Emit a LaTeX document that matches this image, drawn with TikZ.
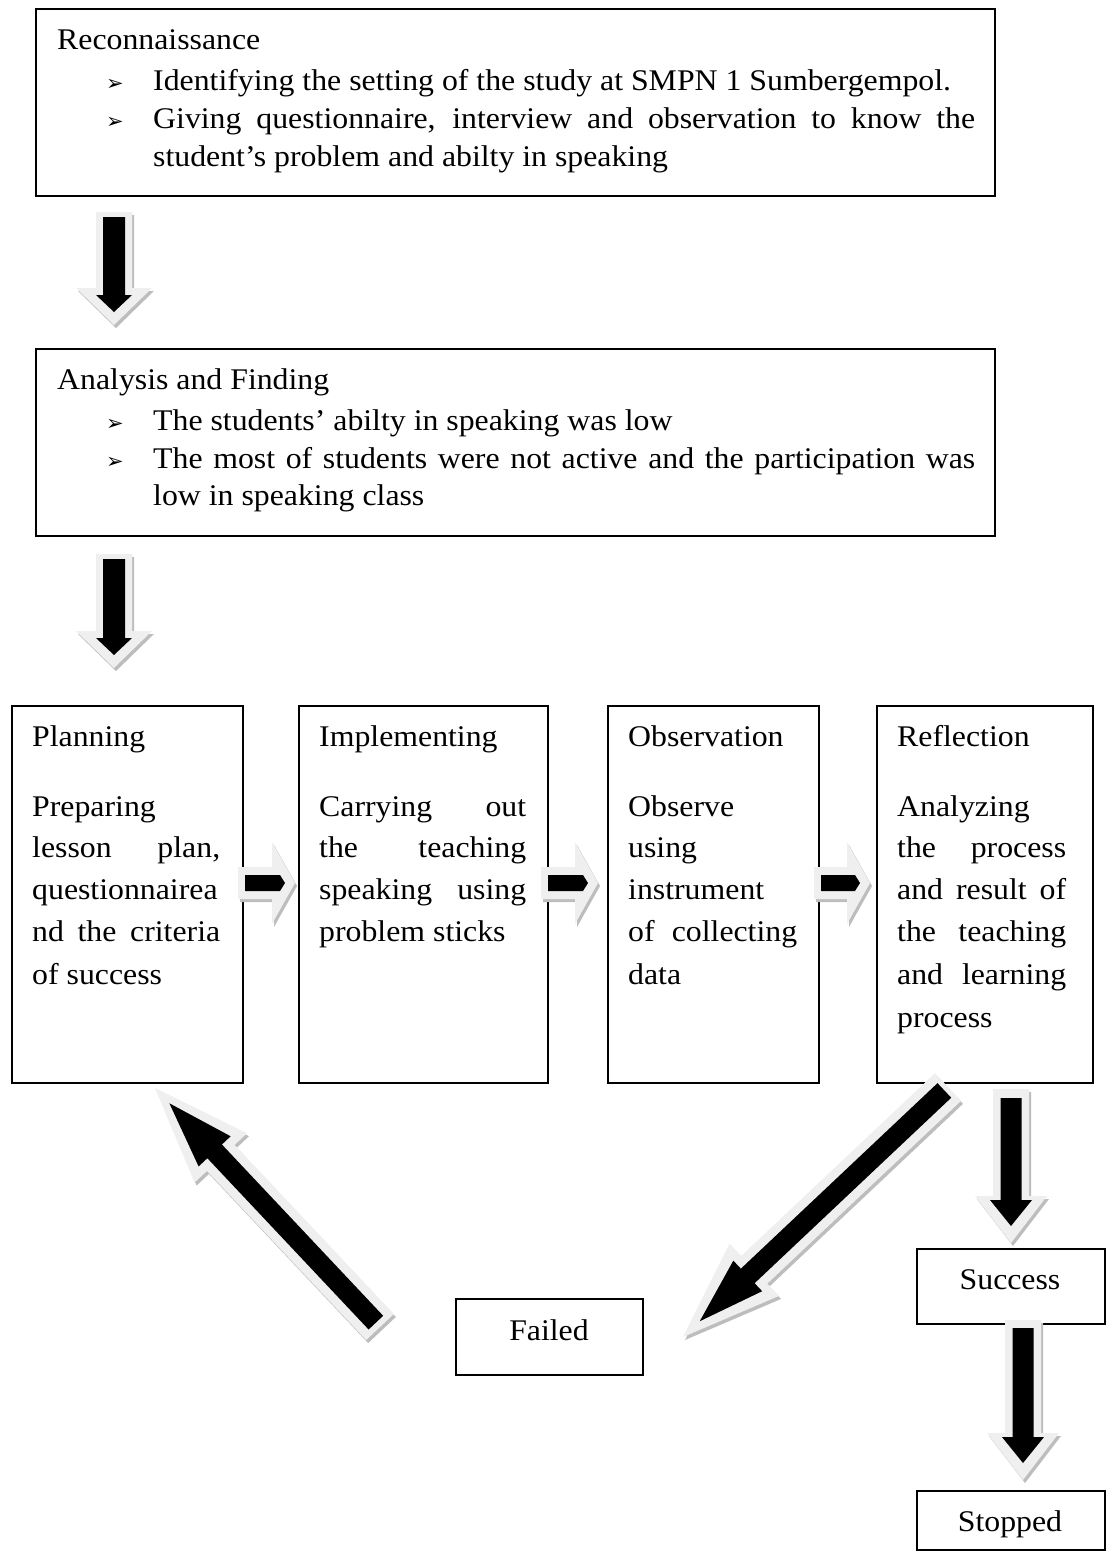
\documentclass[tikz,border=0pt]{standalone}
\usepackage{fontspec}
\setmainfont{Liberation Serif}[FakeStretch=1.06]
\newfontfamily\symfont{DejaVu Sans}
\usetikzlibrary{calc}
\definecolor{outerc}{HTML}{EFEFEF}
\definecolor{shadowc}{HTML}{BDBDBD}
\newcommand\mainsz{\fontsize{30}{42}\selectfont}
\newcommand\bul{{\symfont\fontsize{21}{21}\selectfont ➢}}
\newcommand\jl[2]{\makebox[#1pt][s]{#2}}
% polygon block arrow: tail, tip, shaft half, head half, head length, fill, shift
\newcommand\polyarrow[7]{%
  \coordinate (pa) at ($(#1)+(#7)$);
  \coordinate (pb) at ($(#2)+(#7)$);
  \coordinate (ph) at ($(pb)!#5pt!(pa)$);
  \fill[#6] ($(pa)!#3pt!90:(pb)$) -- ($(ph)!#3pt!-90:(pa)$) -- ($(ph)!#4pt!-90:(pa)$)
    -- (pb) -- ($(ph)!#4pt!90:(pa)$) -- ($(ph)!#3pt!90:(pa)$) -- ($(pa)!#3pt!-90:(pb)$) -- cycle;
}
% tail, tip, outer shaft half, outer head half, outer head len, tail inset, tip inset, inner shaft half, inner head half; inner head length = \ili
\newcommand\fancyarrow[9]{%
  \polyarrow{#1}{#2}{#3}{#4}{#5}{shadowc}{2,3}
  \polyarrow{#1}{#2}{#3}{#4}{#5}{outerc}{0,0}
  \coordinate (ia) at ($(#1)!#6pt!(#2)$);
  \coordinate (ib) at ($(#2)!#7pt!(#1)$);
  \polyarrow{ia}{ib}{#8}{#9}{\ili}{black}{0,0}
}
\tikzset{
  boxs/.style={draw, line width=1.8pt, inner sep=0pt, anchor=north west},
  txt/.style={inner sep=0pt, anchor=base west, font=\mainsz},
  ctxt/.style={inner sep=0pt, anchor=base, font=\mainsz},
  bl/.style={inner sep=0pt, anchor=base west},
}
\begin{document}
\begin{tikzpicture}[x=1pt,y=-1pt]
\useasboundingbox (0,0) rectangle (1111,1558);
\fill[white] (0,0) rectangle (1111,1558);

% boxes
\node[boxs, minimum width=959pt, minimum height=187pt] (recon) at (35,8) {};
\node[boxs, minimum width=959pt, minimum height=187pt] (analysis) at (35,348) {};
\node[boxs, minimum width=231pt, minimum height=377pt] (plan) at (11,705) {};
\node[boxs, minimum width=249pt, minimum height=377pt] (impl) at (298,705) {};
\node[boxs, minimum width=211pt, minimum height=377pt] (obs) at (607,705) {};
\node[boxs, minimum width=216pt, minimum height=377pt] (refl) at (876,705) {};
\node[boxs, minimum width=187pt, minimum height=76pt] (failed) at (455,1298) {};
\node[boxs, minimum width=188pt, minimum height=75pt] (success) at (916,1248) {};
\node[boxs, minimum width=188pt, minimum height=59pt] (stopped) at (916,1490) {};

% top box text
\node[txt] (r0) at (57,49) {Reconnaissance};
\node[bl] (rb1) at (106,90) {\bul};
\node[txt] (r1) at (153,90) {Identifying the setting of the study at SMPN 1 Sumbergempol.};
\node[bl] (rb2) at (106,128) {\bul};
\node[txt] (r2) at (153,128) {\jl{822}{Giving questionnaire, interview and observation to know the}};
\node[txt] (r3) at (153,166) {student’s problem and abilty in speaking};

% analysis text
\node[txt] (a0) at (57,389) {Analysis and Finding};
\node[bl] (ab1) at (106,430) {\bul};
\node[txt] (a1) at (153,430) {The students’ abilty in speaking was low};
\node[bl] (ab2) at (106,468) {\bul};
\node[txt] (a2) at (153,468) {\jl{822}{The most of students were not active and the participation was}};
\node[txt] (a3) at (153,505) {low in speaking class};

% planning
\node[txt] (p0) at (32,746) {Planning};
\node[txt] (p1) at (32,816) {Preparing};
\node[txt] (p2) at (32,857) {\jl{188}{lesson plan,}};
\node[txt] (p3) at (32,899) {questionnairea};
\node[txt] (p4) at (32,941) {\jl{188}{nd the criteria}};
\node[txt] (p5) at (32,984) {of success};

% implementing
\node[txt] (i0) at (319,746) {Implementing};
\node[txt] (i1) at (319,816) {\jl{207}{Carrying out}};
\node[txt] (i2) at (319,857) {\jl{207}{the teaching}};
\node[txt] (i3) at (319,899) {\jl{207}{speaking using}};
\node[txt] (i4) at (319,941) {problem sticks};

% observation
\node[txt] (o0) at (628,746) {Observation};
\node[txt] (o1) at (628,816) {Observe};
\node[txt] (o2) at (628,857) {using};
\node[txt] (o3) at (628,899) {instrument};
\node[txt] (o4) at (628,941) {\jl{169}{of collecting}};
\node[txt] (o5) at (628,984) {data};

% reflection
\node[txt] (f0) at (897,746) {Reflection};
\node[txt] (f1) at (897,816) {Analyzing};
\node[txt] (f2) at (897,857) {\jl{169}{the process}};
\node[txt] (f3) at (897,899) {\jl{169}{and result of}};
\node[txt] (f4) at (897,941) {\jl{169}{the teaching}};
\node[txt] (f5) at (897,984) {\jl{169}{and learning}};
\node[txt] (f6) at (897,1027) {process};

% small boxes text
\node[ctxt] (ft) at (549,1340) {Failed};
\node[ctxt] (st) at (1010,1289) {Success};
\node[ctxt] (sp) at (1010,1531) {Stopped};

% arrow end points
\coordinate (a1t) at (114,212);  \coordinate (a1h) at (114,325);
\coordinate (a2t) at (114,554);  \coordinate (a2h) at (114,668);
\coordinate (s1t) at (238,883);  \coordinate (s1h) at (295,883);
\coordinate (s2t) at (541,883);  \coordinate (s2h) at (598,883);
\coordinate (s3t) at (814,883);  \coordinate (s3h) at (870,883);
\coordinate (dlt) at (948,1087); \coordinate (dlh) at (683,1337);
\coordinate (ult) at (380,1327); \coordinate (ulh) at (155,1088);
\coordinate (sut) at (1011,1089); \coordinate (suh) at (1011,1243);
\coordinate (stt) at (1023,1320); \coordinate (sth) at (1023,1480);

% big vertical arrows
\def\ili{17}
\fancyarrow{a1t}{a1h}{18}{38}{37}{5}{13}{11}{18}
\fancyarrow{a2t}{a2h}{18}{38}{37}{5}{13}{11}{18}
% small horizontal arrows
\def\ili{5}
\fancyarrow{s1t}{s1h}{16}{41}{23}{7}{10}{8}{8}
\fancyarrow{s2t}{s2h}{16}{41}{23}{7}{10}{8}{8}
\fancyarrow{s3t}{s3h}{16}{41}{23}{7}{10}{8}{8}
% diagonal arrows
\def\ili{66}
\fancyarrow{dlt}{dlh}{19}{36}{98}{5}{23}{10}{21}
\fancyarrow{ult}{ulh}{19}{36}{96}{6}{21}{10}{22}
% success / stopped arrows
\def\ili{26}
\fancyarrow{sut}{suh}{18}{36}{47}{9}{17}{10.5}{21}
\fancyarrow{stt}{sth}{18}{36}{47}{8}{17}{10.5}{21}
\end{tikzpicture}
\end{document}
